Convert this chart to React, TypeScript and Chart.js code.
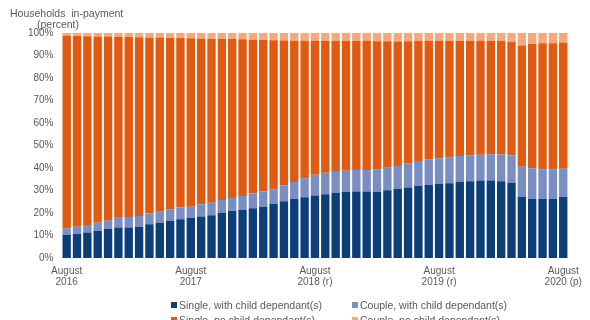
import React, { useEffect, useRef } from "react";
import { Chart, registerables } from "chart.js";

Chart.register(...registerables);

const months = [
  "Aug 2016", "Sep 2016", "Oct 2016", "Nov 2016", "Dec 2016",
  "Jan 2017", "Feb 2017", "Mar 2017", "Apr 2017", "May 2017", "Jun 2017", "Jul 2017", "Aug 2017",
  "Sep 2017", "Oct 2017", "Nov 2017", "Dec 2017",
  "Jan 2018", "Feb 2018", "Mar 2018", "Apr 2018", "May 2018", "Jun 2018", "Jul 2018", "Aug 2018",
  "Sep 2018", "Oct 2018", "Nov 2018", "Dec 2018",
  "Jan 2019", "Feb 2019", "Mar 2019", "Apr 2019", "May 2019", "Jun 2019", "Jul 2019", "Aug 2019",
  "Sep 2019", "Oct 2019", "Nov 2019", "Dec 2019",
  "Jan 2020", "Feb 2020", "Mar 2020", "Apr 2020", "May 2020", "Jun 2020", "Jul 2020", "Aug 2020",
];

const tickMonths = ["Aug 2016", "Aug 2017", "Aug 2018", "Aug 2019", "Aug 2020"];
const tickLabels = [
  ["August", "2016"],
  ["August", "2017"],
  ["August", "2018 (r)"],
  ["August", "2019 (r)"],
  ["August", "2020 (p)"],
];

const yTicks = [0, 10, 20, 30, 40, 50, 60, 70, 80, 90, 100];

const singleWithChild = [
  10.2, 10.7, 11.3, 12.0, 12.9, 13.6, 13.6, 13.9, 15.0, 15.7, 16.6, 17.2, 17.8,
  18.5, 19.0, 20.0, 20.9, 21.3, 22.1, 22.8, 24.1, 25.2, 26.2, 27.0, 27.8,
  28.3, 29.0, 29.3, 29.6, 29.6, 29.3, 30.1, 30.7, 31.3, 32.1, 32.4, 33.0,
  33.2, 33.9, 34.1, 34.4, 34.4, 34.1, 33.5, 27.1, 26.2, 26.2, 26.2, 27.1,
];

const coupleWithChild = [
  2.9, 3.2, 3.4, 3.7, 3.7, 4.3, 4.6, 4.8, 4.9, 4.9, 5.0, 5.2, 5.0,
  5.4, 5.6, 5.8, 5.8, 6.3, 6.6, 6.8, 6.4, 7.1, 7.6, 8.5, 9.2,
  9.6, 9.7, 9.5, 9.5, 9.5, 10.1, 10.0, 10.2, 10.8, 11.0, 11.5, 11.3,
  11.5, 11.4, 11.5, 11.5, 11.7, 11.9, 12.1, 13.5, 13.7, 13.2, 13.2, 12.6,
];

const singleNoChild = [
  85.7, 84.8, 83.9, 82.8, 81.8, 80.4, 80.0, 79.4, 78.1, 77.4, 76.3, 75.4, 74.9,
  73.7, 72.9, 71.6, 70.6, 69.6, 68.3, 67.3, 66.3, 64.4, 62.8, 61.1, 59.6,
  58.6, 57.8, 57.7, 57.3, 57.3, 56.9, 56.2, 55.3, 54.2, 53.5, 52.7, 52.3,
  51.9, 51.3, 51.0, 50.7, 50.4, 50.4, 50.5, 53.9, 55.2, 56.0, 56.0, 56.0,
];

const coupleNoChild = [
  1.2, 1.3, 1.4, 1.5, 1.6, 1.7, 1.8, 1.9, 2.0, 2.0, 2.1, 2.2, 2.3,
  2.4, 2.5, 2.6, 2.7, 2.8, 3.0, 3.1, 3.2, 3.3, 3.4, 3.4, 3.4,
  3.5, 3.5, 3.5, 3.6, 3.6, 3.7, 3.7, 3.8, 3.7, 3.4, 3.4, 3.4,
  3.4, 3.4, 3.4, 3.4, 3.5, 3.6, 3.9, 5.5, 4.9, 4.6, 4.6, 4.3,
];

const seriesNames = [
  "Single, with child dependant(s)",
  "Couple, with child dependant(s)",
  "Single, no child dependant(s)",
  "Couple, no child dependant(s)",
];
const seriesColors = ["#0d3e78", "#7b8ec2", "#e05a12", "#f2a981"];

const FONT = '"Liberation Sans", Arial, sans-serif';
const TEXT = "#595959";

export default function App() {
  const ref = useRef<HTMLCanvasElement | null>(null);

  useEffect(() => {
    if (!ref.current) return;
    const seriesData = [singleWithChild, coupleWithChild, singleNoChild, coupleNoChild];
    const chart = new Chart(ref.current, {
      type: "bar",
      data: {
        labels: months,
        datasets: seriesData.map((d, i) => ({
          label: seriesNames[i],
          data: d,
          backgroundColor: seriesColors[i],
          borderWidth: 0,
          barPercentage: 0.81,
          categoryPercentage: 1,
        })),
      },
      options: {
        responsive: false,
        maintainAspectRatio: false,
        animation: false,
        layout: { padding: { top: 33, right: 14, bottom: 0, left: 0 } },
        plugins: { legend: { display: false }, tooltip: { enabled: false } },
        scales: {
          x: {
            stacked: true,
            grid: { display: false, drawTicks: false },
            border: { display: false },
            ticks: {
              autoSkip: false,
              maxRotation: 0,
              minRotation: 0,
              padding: 8,
              color: TEXT,
              font: { family: FONT, size: 10, lineHeight: 1.05 },
              callback: (_v: any, i: number) => {
                const k = tickMonths.indexOf(months[i]);
                return k >= 0 ? tickLabels[k] : "";
              },
            },
            afterFit: (s: any) => {
              s.height = 62;
            },
          },
          y: {
            stacked: true,
            min: 0,
            max: 100,
            grid: { display: false, drawTicks: false },
            border: { display: false },
            afterBuildTicks: (s: any) => {
              s.ticks = yTicks.map((v) => ({ value: v }));
            },
            ticks: {
              padding: 8,
              color: TEXT,
              font: { family: FONT, size: 10 },
              callback: (v: any) => v + "%",
            },
            afterFit: (s: any) => {
              s.width = 61.5;
            },
          },
        },
      },
    });
    return () => chart.destroy();
  }, []);

  const legendPos = [
    { left: 171, top: 299 },
    { left: 352, top: 299 },
    { left: 171, top: 314 },
    { left: 352, top: 314 },
  ];

  return (
    <div
      style={{
        position: "fixed",
        left: 0,
        top: 0,
        width: 590,
        height: 320,
        overflow: "hidden",
        background: "#ffffff",
        fontFamily: FONT,
        color: TEXT,
      }}
    >
      <canvas ref={ref} width={590} height={320} style={{ position: "absolute", left: 0, top: 0 }} />
      <div style={{ position: "absolute", left: 10, top: 7, fontSize: 10.5, whiteSpace: "pre" }}>
        {"Households  in-payment"}
      </div>
      <div style={{ position: "absolute", left: 37, top: 18, fontSize: 10.5 }}>(percent)</div>
      {seriesNames.map((n, i) => (
        <div
          key={n}
          style={{
            position: "absolute",
            left: legendPos[i].left,
            top: legendPos[i].top,
            fontSize: 10.5,
            lineHeight: "12px",
            whiteSpace: "nowrap",
            display: "flex",
            alignItems: "center",
          }}
        >
          <span
            style={{
              display: "inline-block",
              width: 6,
              height: 6,
              background: seriesColors[i],
              marginRight: 2,
            }}
          />
          {n}
        </div>
      ))}
    </div>
  );
}
